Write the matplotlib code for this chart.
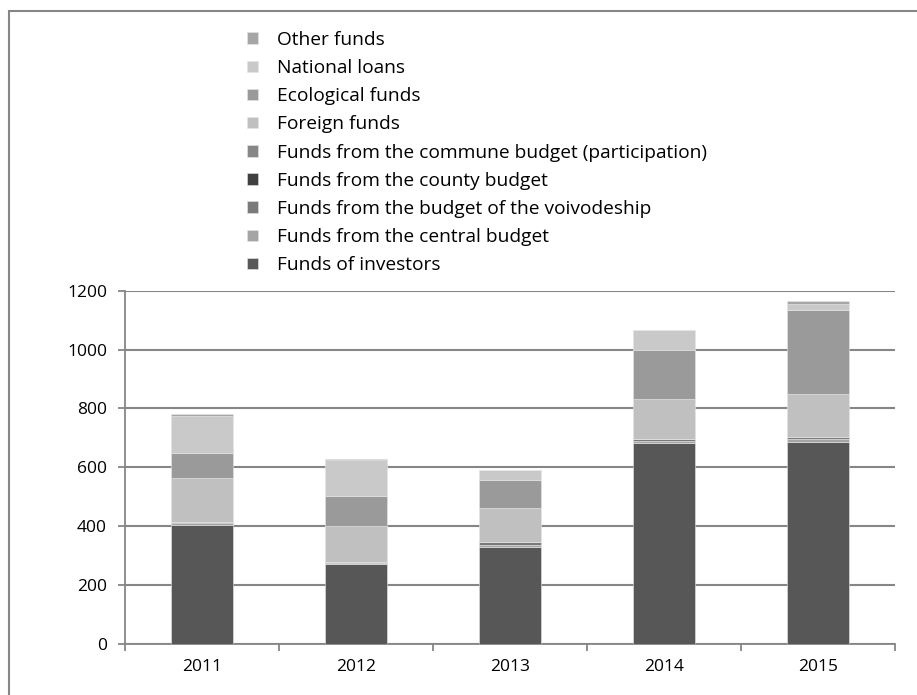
import numpy as np
import matplotlib.pyplot as plt
from matplotlib.patches import Rectangle

plt.rcParams['font.family'] = ['Open Sans', 'DejaVu Sans']

years = ['2011', '2012', '2013', '2014', '2015']

investors = [405, 272, 329, 682, 687]
central_budget = [5, 3, 8, 8, 10]
voivodeship = [3, 1, 7, 7, 5]
county = [0, 0, 0, 0, 0]
commune = [0, 0, 0, 0, 0]
foreign = [152, 125, 118, 137, 149]
ecological = [85, 102, 95, 166, 286]
national_loans = [125, 121, 32, 66, 19]
other = [6, 4, 2, 2, 11]

series = [
    ('Funds of investors', investors, '#575757'),
    ('Funds from the central budget', central_budget, '#a5a5a5'),
    ('Funds from the budget of the voivodeship', voivodeship, '#7a7a7a'),
    ('Funds from the county budget', county, '#404040'),
    ('Funds from the commune budget (participation)', commune, '#878787'),
    ('Foreign funds', foreign, '#c0c0c0'),
    ('Ecological funds', ecological, '#9a9a9a'),
    ('National loans', national_loans, '#c9c9c9'),
    ('Other funds', other, '#a6a6a6'),
]

fig = plt.figure(figsize=(9.17, 6.95), dpi=100)
ax = fig.add_axes([0.1363, 0.0741, 0.8397, 0.5072])

x = np.arange(len(years))
bottom = np.zeros(len(years))
handles = []
for label, vals, color in series:
    vals = np.array(vals, dtype=float)
    b = ax.bar(x, vals, 0.4, bottom=bottom, color=color, label=label,
               edgecolor='#e6e6e6', linewidth=0.4, zorder=3)
    handles.append(b)
    bottom += vals

ax.set_xlim(-0.5, 4.5)
ax.set_ylim(0, 1200)
ax.set_yticks(range(0, 1201, 200))
ax.set_xticks(x)
ax.set_xticklabels(years)
ax.set_xticks(np.arange(-0.5, 5, 1), minor=True)
ax.tick_params(axis='x', which='major', length=0, pad=11, labelsize=12.5)
ax.tick_params(axis='x', which='minor', length=5, width=1.3, color='#868686')
ax.tick_params(axis='y', length=5, width=1.3, color='#868686', pad=8, labelsize=12.5)
ax.yaxis.grid(True, color='#868686', linewidth=1.5, zorder=0)
for side in ['top', 'right']:
    ax.spines[side].set_visible(False)
for side in ['left', 'bottom']:
    ax.spines[side].set_color('#868686')
    ax.spines[side].set_linewidth(1.3)

# legend sits above the axes, newest series first
fig.legend(handles[::-1], [s[0] for s in series][::-1], loc='upper left',
           bbox_to_anchor=(247 / 917, 1 - 31 / 695), frameon=False,
           fontsize=13.8, handlelength=0.55, handleheight=0.55,
           handletextpad=1.0, labelspacing=0.53, borderpad=0,
           borderaxespad=0)

fig.patches.append(Rectangle((9 / 917, -0.1), 1.2, 1 - 11 / 695 + 0.1,
                             transform=fig.transFigure, fill=False,
                             edgecolor='#868686', linewidth=1.5))

fig.savefig('out.png', dpi=100)
